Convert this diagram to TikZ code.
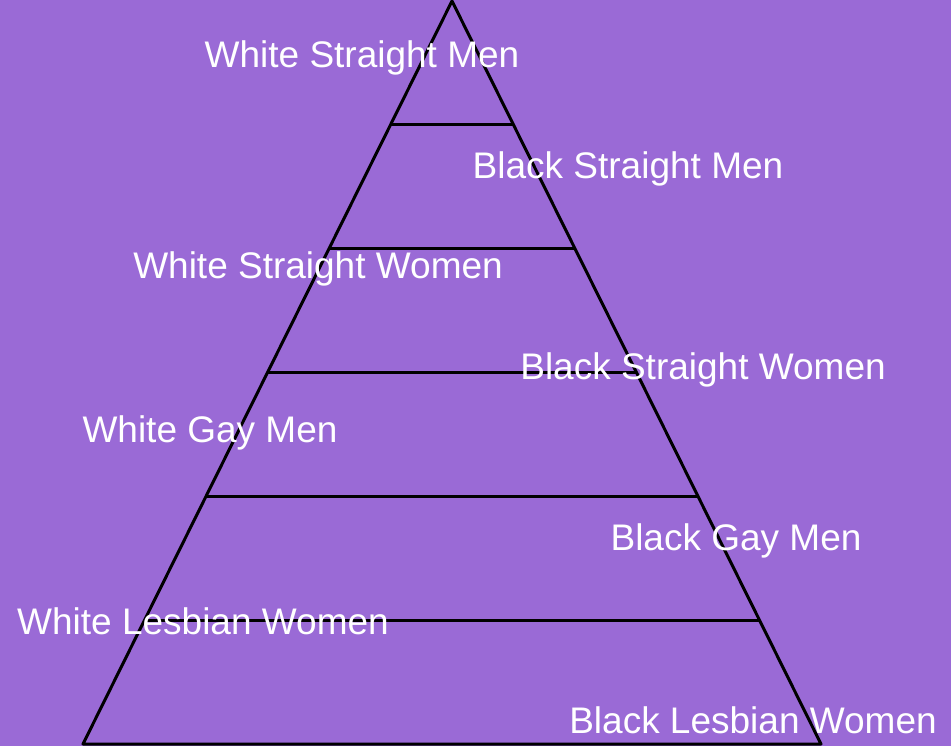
\documentclass[tikz,border=0pt]{standalone}
\usepackage{fontspec}
\setmainfont{Liberation Sans}
\usetikzlibrary{calc}
\definecolor{bgpurple}{RGB}{154,106,214}

\begin{document}
\begin{tikzpicture}[
    x=0.5pt, y=-0.5pt,
    tier/.style={draw=black, line width=1.5pt},
    lbl/.style={text=white, font=\fontsize{18.5}{22}\selectfont, anchor=base, inner sep=0pt}
  ]
  \fill[bgpurple] (0,0) rectangle (951,746);
  \useasboundingbox (0,0) rectangle (951,746);

  \coordinate (apex)  at (452,1);
  \coordinate (left)  at (83,744);
  \coordinate (right) at (821,744);
  \draw[tier, line join=round] (left) -- (apex) -- (right) -- cycle;
  \foreach \k in {1,...,5} {
    \draw[tier] ($(apex)!\k/6!(left)$) -- ($(apex)!\k/6!(right)$);
  }

  \node[lbl] (wsm) at (362,67)  {White Straight Men};
  \node[lbl] (bsm) at (628,178) {Black Straight Men};
  \node[lbl] (wsw) at (318,278) {White Straight Women};
  \node[lbl] (bsw) at (703,379) {Black Straight Women};
  \node[lbl] (wgm) at (210,442) {White Gay Men};
  \node[lbl] (bgm) at (736,550) {Black Gay Men};
  \node[lbl] (wlw) at (203,634) {White Lesbian Women};
  \node[lbl] (blw) at (753,733) {Black Lesbian Women};
\end{tikzpicture}
\end{document}
